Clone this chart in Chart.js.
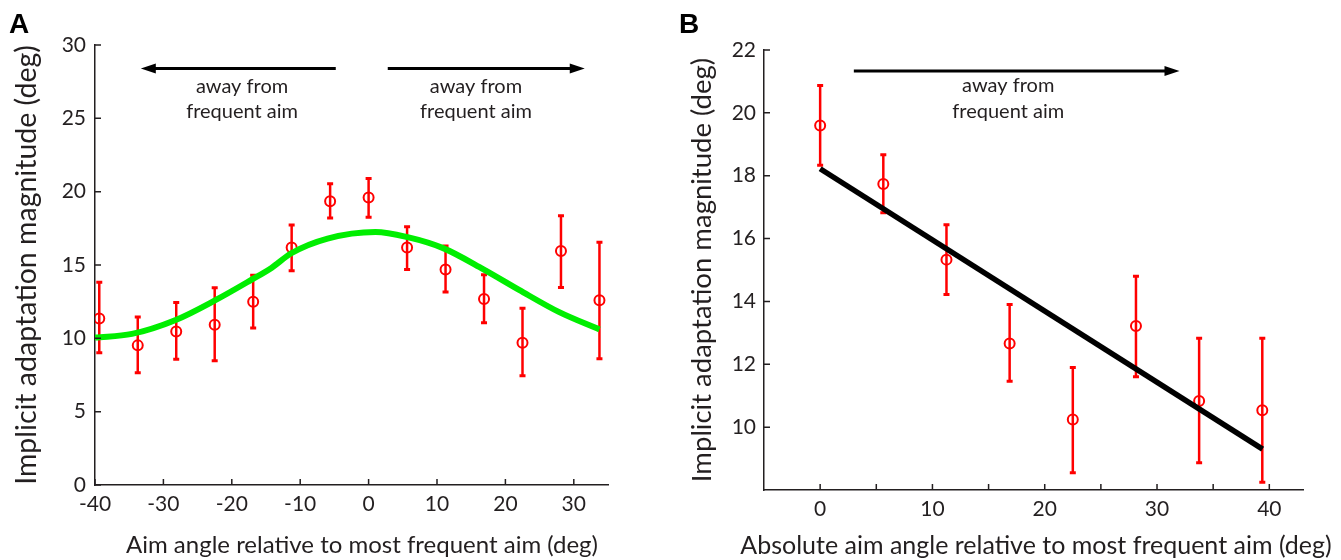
<!DOCTYPE html>
<html>
<head>
<meta charset="utf-8">
<script src="https://cdn.jsdelivr.net/npm/chart.js@4.4.1/dist/chart.umd.min.js"></script>
<style>
  body { margin: 0; background: #fff; }
  #wrap { position: relative; width: 1341px; height: 560px; }
  canvas { position: absolute; top: 0; }
  #chartA { left: 0; }
  #chartB { left: 670px; }
</style>
</head>
<body>
<div id="wrap">
  <canvas id="chartA" width="640" height="560"></canvas>
  <canvas id="chartB" width="671" height="560"></canvas>
</div>
<script>
// panel A - implicit adaptation vs signed aim angle
const anglesA = [-39.375, -33.75, -28.125, -22.5, -16.875, -11.25, -5.625, 0, 5.625, 11.25, 16.875, 22.5, 28.125, 33.75];
const implicitA = [11.36, 9.52, 10.47, 10.93, 12.5, 16.2, 19.34, 19.61, 16.2, 14.7, 12.68, 9.7, 15.95, 12.6];
const lowA = [9.02, 7.66, 8.57, 8.48, 10.7, 14.6, 18.2, 18.25, 14.7, 13.16, 11.06, 7.45, 13.47, 8.6];
const highA = [13.82, 11.45, 12.45, 13.45, 14.3, 17.72, 20.54, 20.9, 17.6, 16.3, 14.34, 12.05, 18.36, 16.55];
const fitAnglesA = [-40, -34.6, -28.2, -22.4, -17.1, -14.2, -11.3, -6, 1, 5.7, 10.9, 16.8, 22, 27.8, 33.75];
const fitA = [10.05, 10.3, 11.25, 12.6, 14.0, 14.8, 15.8, 16.8, 17.25, 16.9, 16.15, 14.7, 13.3, 11.8, 10.6];
const xTicksA = [-40, -30, -20, -10, 0, 10, 20, 30];
const yTicksA = [0, 5, 10, 15, 20, 25, 30];

// panel B - implicit adaptation vs absolute aim angle
const anglesB = [0, 5.625, 11.25, 16.875, 22.5, 28.125, 33.75, 39.375];
const implicitB = [19.6, 17.74, 15.33, 12.66, 10.24, 13.22, 10.83, 10.54];
const lowB = [18.33, 16.82, 14.22, 11.46, 8.55, 11.6, 8.87, 8.25];
const highB = [20.87, 18.67, 16.44, 13.9, 11.9, 14.8, 12.83, 12.83];
const fitAnglesB = [0, 39.4];
const fitB = [18.22, 9.3];
const xTicksB = [0, 5, 10, 15, 20, 25, 30, 35, 40];
const xLabelsB = [0, 10, 20, 30, 40];
const yTicksB = [10, 12, 14, 16, 18, 20, 22];

const ink = '#231f20';
const red = '#ff0000';
const face = 'Lato, "Open Sans", sans-serif';

function pts(xs, ys) {
  return xs.map((x, i) => ({ x: x, y: ys[i] }));
}

// error bars under the markers
const errorBars = {
  id: 'errorBars',
  beforeDatasetsDraw(chart, args, opts) {
    const { ctx, scales: { x, y } } = chart;
    ctx.save();
    ctx.strokeStyle = red;
    opts.xs.forEach((v, i) => {
      const px = x.getPixelForValue(v);
      const top = y.getPixelForValue(opts.hi[i]);
      const bot = y.getPixelForValue(opts.lo[i]);
      ctx.lineWidth = 2.5;
      ctx.beginPath();
      ctx.moveTo(px, top); ctx.lineTo(px, bot);
      ctx.stroke();
      ctx.lineWidth = 3;
      ctx.beginPath();
      ctx.moveTo(px - 3, top); ctx.lineTo(px + 3, top);
      ctx.moveTo(px - 3, bot); ctx.lineTo(px + 3, bot);
      ctx.stroke();
    });
    ctx.restore();
  }
};

// matlab style ticks, pointing inside
const innerTicks = {
  id: 'innerTicks',
  afterDraw(chart) {
    const { ctx, chartArea: a, scales: { x, y } } = chart;
    ctx.save();
    ctx.strokeStyle = ink;
    ctx.lineWidth = 1.5;
    ctx.beginPath();
    x.ticks.forEach(t => {
      const px = x.getPixelForValue(t.value);
      ctx.moveTo(px, a.bottom); ctx.lineTo(px, a.bottom - 6);
    });
    y.ticks.forEach(t => {
      const py = y.getPixelForValue(t.value);
      ctx.moveTo(a.left, py); ctx.lineTo(a.left + 6, py);
    });
    ctx.stroke();
    ctx.restore();
  }
};

// arrows, notes, x title and panel letter
const notes = {
  id: 'notes',
  afterDraw(chart, args, opts) {
    const { ctx, scales: { x, y } } = chart;
    ctx.save();
    ctx.strokeStyle = '#000';
    ctx.fillStyle = '#000';
    ctx.lineWidth = 3;
    opts.arrows.forEach(a => {
      const x1 = x.getPixelForValue(a.from), x2 = x.getPixelForValue(a.to);
      const py = y.getPixelForValue(a.y);
      const dir = x2 > x1 ? 1 : -1;
      ctx.beginPath();
      ctx.moveTo(x1, py); ctx.lineTo(x2 - dir * 12, py);
      ctx.stroke();
      ctx.beginPath();
      ctx.moveTo(x2, py);
      ctx.lineTo(x2 - dir * 15, py - 5);
      ctx.lineTo(x2 - dir * 15, py + 5);
      ctx.closePath();
      ctx.fill();
    });
    ctx.fillStyle = ink;
    ctx.font = '20px ' + face;
    ctx.textAlign = 'center';
    ctx.textBaseline = 'middle';
    opts.labels.forEach(l => {
      ctx.fillText(l.text, x.getPixelForValue(l.x), y.getPixelForValue(l.y));
    });
    // x axis title, wider than the plot in panel B so drawn by hand
    const t = opts.xTitle;
    ctx.font = t.size + 'px ' + face;
    ctx.fillText(t.text, t.cx, t.cy);
    ctx.fillStyle = '#000';
    ctx.font = 'bold 28px "Liberation Sans", Arial, sans-serif';
    ctx.textAlign = 'left';
    ctx.textBaseline = 'alphabetic';
    ctx.fillText(opts.letter, 9, 33);
    ctx.restore();
  }
};

const tickFont = { family: face, size: 21 };

function axis(min, max, ticks, title, titleSize, titlePad, tickPad, extra) {
  return Object.assign({
    type: 'linear',
    min: min,
    max: max,
    afterBuildTicks: s => { s.ticks = ticks.map(v => ({ value: v })); },
    grid: { display: false, drawTicks: false },
    border: { color: ink, width: 1.5 },
    ticks: { color: ink, font: tickFont, padding: tickPad, maxRotation: 0, autoSkip: false },
    title: { display: !!title, text: title, color: ink, font: { family: face, size: titleSize }, padding: titlePad }
  }, extra);
}

Chart.defaults.animation = false;

new Chart(document.getElementById('chartA'), {
  type: 'scatter',
  data: {
    datasets: [{
      type: 'line',
      data: pts(fitAnglesA, fitA),
      borderColor: '#00ee00',
      borderWidth: 6,
      pointRadius: 0,
      cubicInterpolationMode: 'monotone',
      fill: false
    }, {
      data: pts(anglesA, implicitA),
      borderColor: red,
      backgroundColor: 'rgba(0,0,0,0)',
      pointRadius: 5,
      pointBorderWidth: 2
    }]
  },
  options: {
    responsive: false,
    layout: { padding: { top: 45, right: 32, left: 0, bottom: 0 } },
    plugins: {
      legend: { display: false },
      tooltip: { enabled: false },
      errorBars: { xs: anglesA, lo: lowA, hi: highA },
      notes: {
        letter: 'A',
        xTitle: { text: 'Aim angle relative to most frequent aim (deg)', size: 24, cx: 362, cy: 545 },
        arrows: [{ from: -4.8, to: -33.3, y: 28.4 }, { from: 2.8, to: 31.6, y: 28.4 }],
        labels: [
          { text: 'away from', x: -18.5, y: 27.2 },
          { text: 'frequent aim', x: -18.5, y: 25.45 },
          { text: 'away from', x: 15.7, y: 27.2 },
          { text: 'frequent aim', x: 15.7, y: 25.45 }
        ]
      }
    },
    scales: {
      x: axis(-40, 35, xTicksA, '', 24, 0, 7, { afterFit: s => { s.height = 75; } }),
      y: axis(0, 30, yTicksA, 'Implicit adaptation magnitude (deg)', 28.5, { top: 10, bottom: 0 },
        9, { afterFit: s => { s.width = 95; } })
    }
  },
  plugins: [errorBars, innerTicks, notes]
});

new Chart(document.getElementById('chartB'), {
  type: 'scatter',
  data: {
    datasets: [{
      type: 'line',
      data: pts(fitAnglesB, fitB),
      borderColor: '#000',
      borderWidth: 5.5,
      pointRadius: 0,
      fill: false
    }, {
      data: pts(anglesB, implicitB),
      borderColor: red,
      backgroundColor: 'rgba(0,0,0,0)',
      pointRadius: 5,
      pointBorderWidth: 2
    }]
  },
  options: {
    responsive: false,
    layout: { padding: { top: 50, right: 38, left: 0, bottom: 0 } },
    plugins: {
      legend: { display: false },
      tooltip: { enabled: false },
      errorBars: { xs: anglesB, lo: lowB, hi: highB },
      notes: {
        letter: 'B',
        xTitle: { text: 'Absolute aim angle relative to most frequent aim (deg)', size: 25, cx: 366, cy: 546 },
        arrows: [{ from: 3.0, to: 32.0, y: 21.33 }],
        labels: [
          { text: 'away from', x: 16.75, y: 20.86 },
          { text: 'frequent aim', x: 16.75, y: 20.04 }
        ]
      }
    },
    scales: {
      x: axis(-5, 43, xTicksB, '', 25, 0, 7, {
        afterFit: s => { s.height = 70; },
        ticks: {
          color: ink, font: tickFont, padding: 7, maxRotation: 0, autoSkip: false,
          callback: v => xLabelsB.includes(v) ? String(v) : ''
        }
      }),
      y: axis(8, 22, yTicksB, 'Implicit adaptation magnitude (deg)', 27.5, { top: 15.5, bottom: 0 },
        8, { afterFit: s => { s.width = 94; } })
    }
  },
  plugins: [errorBars, innerTicks, notes]
});
</script>
</body>
</html>
